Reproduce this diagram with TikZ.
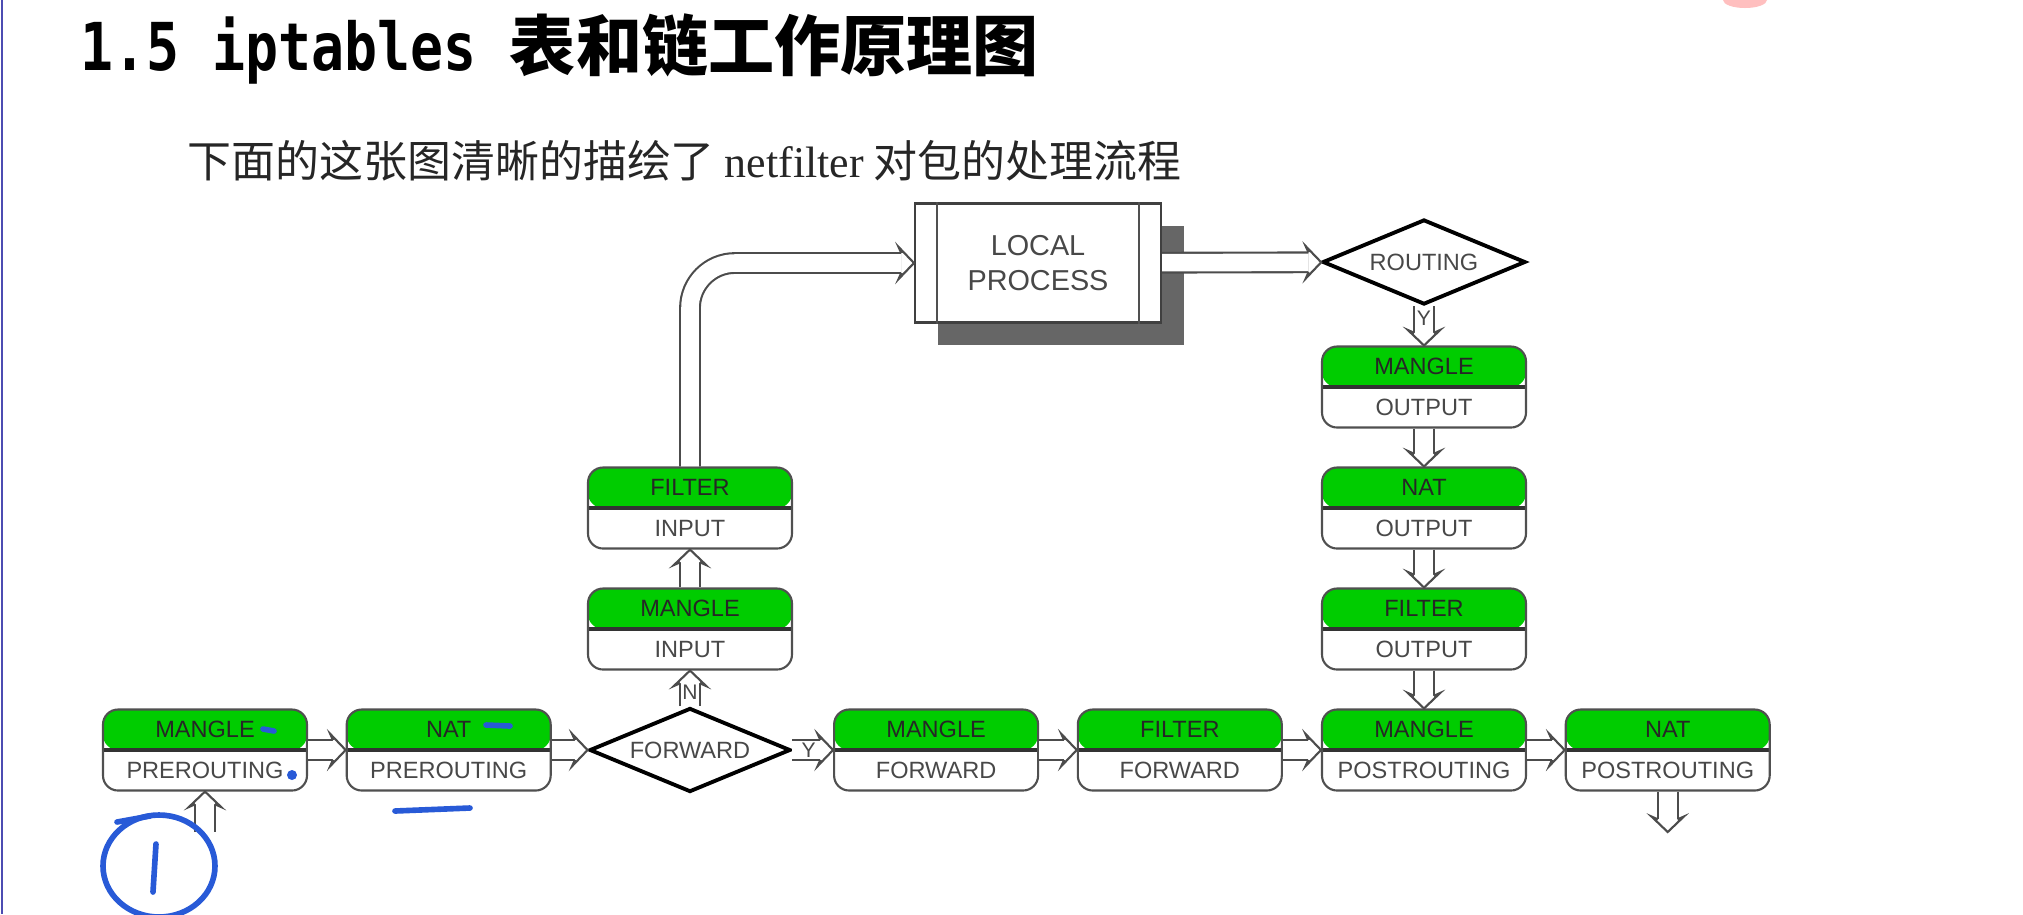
\documentclass[tikz,border=0pt]{standalone}
\usepackage{fontspec}
\usetikzlibrary{shapes.geometric}
\usetikzlibrary{shadows}
\setmainfont{Liberation Sans}
\newfontfamily\cjkfont{Noto Sans CJK SC}
\newfontfamily\headmono[FakeStretch=0.83]{DejaVu Sans Mono}
\newfontfamily\seriffont{Liberation Serif}
\definecolor{chaingreen}{RGB}{0,204,0}
\definecolor{boxgray}{RGB}{72,72,72}
\definecolor{boxline}{RGB}{80,80,80}
\definecolor{shadowgray}{RGB}{102,102,102}
\definecolor{penblue}{RGB}{40,90,215}
\newcommand{\chaintext}[2]{{\color{black!85}#1}\\{\color{boxgray}#2}}

% open head for the hollow pipes
\pgfdeclarearrow{
  name = Pipehead,
  cache = false,
  setup code = {
    \pgfarrowssettipend{0pt}
    \pgfarrowssetbackend{-4.4pt}
    \pgfarrowssetlineend{-3.6pt}
  },
  drawing code = {
    \pgfsetlinewidth{0.6pt}
    \pgfsetmiterjoin
    \pgfsetfillcolor{white}
    \pgfpathmoveto{\pgfqpoint{-3.6pt}{2.8pt}}
    \pgfpathlineto{\pgfqpoint{-4.4pt}{4.6pt}}
    \pgfpathlineto{\pgfpointorigin}
    \pgfpathlineto{\pgfqpoint{-4.4pt}{-4.6pt}}
    \pgfpathlineto{\pgfqpoint{-3.6pt}{-2.8pt}}
    \pgfusepathqfillstroke
  }
}

\begin{document}
\begin{tikzpicture}[
chain/.style={draw=boxline, line width=0.6pt, rounded corners=0.15cm, fill=white,
  minimum width=2.04cm, minimum height=0.81cm, inner sep=0pt, align=center,
  font=\fontsize{6.7}{11.7}\selectfont,
  path picture={
    \fill[chaingreen] (path picture bounding box.north west) rectangle (path picture bounding box.east);
    \draw[line width=0.9pt, black!80] (path picture bounding box.west) -- (path picture bounding box.east);
  }},
decision/.style={diamond, draw=black, line width=1.1pt, fill=white, aspect=2.4,
  minimum width=2.01cm, minimum height=0.84cm, inner sep=0pt,
  font=\fontsize{6.7}{8}\selectfont, text=boxgray},
pipe/.style={draw=black!70, line width=0.6pt, double=white, double distance=5pt, -Pipehead},
flag/.style={font=\fontsize{6}{7}\selectfont, text=boxgray, inner sep=0pt},
annot/.style={draw=penblue, line width=1.6pt, line cap=round}
]
\useasboundingbox[fill=white] (0,0) rectangle (20.23,-9.14);

\def\rowy{-7.50}
\def\dx{2.437}
\def\inx{6.90}
\def\outx{14.24}
\def\dy{1.21}

% heading
\node[anchor=base west, inner sep=0pt] (title) at (0.80,-0.70)
  {\fontsize{18.8}{20}\selectfont\bfseries{\headmono 1.5 iptables }\cjkfont 表和链工作原理图};
\node[anchor=base west, inner sep=0pt, text=black!85] (intro) at (1.87,-1.77)
  {\fontsize{12.5}{14}\selectfont\cjkfont 下面的这张图清晰的描绘了 {\seriffont netfilter} 对包的处理流程};

% bottom row
\node[chain] (mpre) at (2.05,\rowy) {\chaintext{MANGLE}{PREROUTING}};
\node[chain] (npre) at (2.05+\dx,\rowy) {\chaintext{NAT}{PREROUTING}};
\node[decision] (fwd) at (\inx,\rowy) {FORWARD};
\node[chain] (mfwd) at (2.05+3*\dx,\rowy) {\chaintext{MANGLE}{FORWARD}};
\node[chain] (ffwd) at (2.05+4*\dx,\rowy) {\chaintext{FILTER}{FORWARD}};
\node[chain] (mpost) at (\outx,\rowy) {\chaintext{MANGLE}{POSTROUTING}};
\node[chain] (npost) at (\outx+\dx,\rowy) {\chaintext{NAT}{POSTROUTING}};

% input side
\node[chain] (min) at (\inx,\rowy+\dy) {\chaintext{MANGLE}{INPUT}};
\node[chain] (fin) at (\inx,\rowy+2*\dy) {\chaintext{FILTER}{INPUT}};

% local process and output side
\node[draw=black!75, line width=0.6pt, fill=white, minimum width=2.46cm, minimum height=1.19cm,
  align=center, font=\fontsize{8.2}{10}\selectfont, text=boxgray,
  drop shadow={shadow xshift=0.23cm, shadow yshift=-0.22cm, fill=shadowgray, opacity=1}]
  (lproc) at (10.38,-2.63) {LOCAL\\PROCESS};
\draw[boxline, line width=0.6pt] ([xshift=0.23cm]lproc.north west) -- ([xshift=0.23cm]lproc.south west);
\draw[boxline, line width=0.6pt] ([xshift=-0.23cm]lproc.north east) -- ([xshift=-0.23cm]lproc.south east);

\node[decision, minimum width=2.03cm, minimum height=0.85cm] (rout) at (\outx,-2.62) {ROUTING};
\node[chain] (mout) at (\outx,\rowy+3*\dy) {\chaintext{MANGLE}{OUTPUT}};
\node[chain] (nout) at (\outx,\rowy+2*\dy) {\chaintext{NAT}{OUTPUT}};
\node[chain] (fout) at (\outx,\rowy+\dy) {\chaintext{FILTER}{OUTPUT}};

\coordinate (entry) at (2.05,-8.32);
\coordinate (exit) at (\outx+\dx,-8.32);

\draw[pipe] (entry) -- (mpre);
\draw[pipe] (mpre) -- (npre);
\draw[pipe] (npre) -- (fwd);
\draw[pipe] (fwd) -- node[flag, pos=0.4] {Y} (mfwd);
\draw[pipe] (mfwd) -- (ffwd);
\draw[pipe] (ffwd) -- (mpost);
\draw[pipe] (mpost) -- (npost);
\draw[pipe] (npost) -- (exit);

\draw[pipe] (fwd) -- node[flag, pos=0.4] {N} (min);
\draw[pipe] (min) -- (fin);
\draw[pipe, rounded corners=0.45cm] (fin) |- (lproc);
\draw[pipe] (lproc) -- (rout);
\draw[pipe] (rout) -- node[flag, pos=0.3] {Y} (mout);
\draw[pipe] (mout) -- (nout);
\draw[pipe] (nout) -- (fout);
\draw[pipe] (fout) -- (mpost);

% pen marks
\draw[annot] (1.59,-8.66) ellipse (0.56 and 0.51);
\draw[annot] (1.17,-8.22) -- (1.50,-8.16);
\draw[annot] (1.56,-8.44) -- (1.53,-8.92);
\draw[annot] (2.63,-7.29) -- (2.74,-7.31);
\fill[penblue] (2.92,-7.75) circle (0.05);
\draw[annot] (4.86,-7.25) -- (5.10,-7.26);
\draw[annot] (3.95,-8.11) -- (4.70,-8.08);
\draw[gray!60!blue, line width=0.4pt] (0.02,0) -- (0.02,-9.14);
\fill[red!25] (17.45,0) ellipse (0.22 and 0.08);
\end{tikzpicture}
\end{document}
